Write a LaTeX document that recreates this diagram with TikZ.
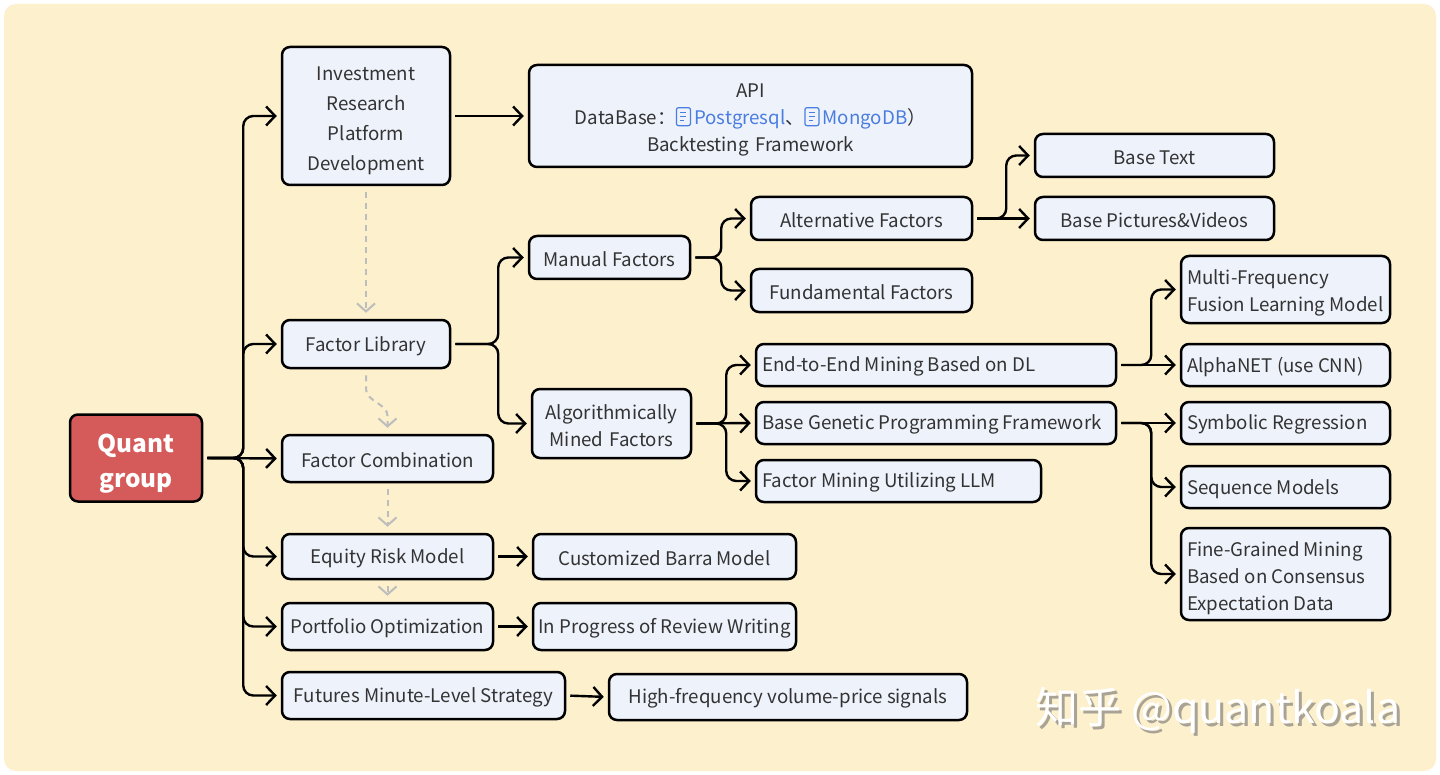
\documentclass[tikz,border=0pt]{standalone}
\usepackage{fontspec}
\setmainfont{Noto Sans CJK SC}
\usepackage{tikz}
\usetikzlibrary{arrows.meta,calc}
\hyphenpenalty=10000

\definecolor{paper}{HTML}{FDF0CC}
\definecolor{boxfill}{HTML}{EEF2FB}
\definecolor{inkgray}{HTML}{333333}
\definecolor{quantred}{HTML}{D55A5A}
\definecolor{linkblue}{HTML}{4A7DE0}
\definecolor{dashgray}{HTML}{BDBDBD}
\definecolor{shadowgray}{HTML}{A9A396}

\newcommand{\docicon}{\tikz[baseline=0pt,x=1pt,y=1pt,line width=0.6pt]{\draw[linkblue,rounded corners=1pt] (0,-0.5) rectangle (7,8.5); \draw[linkblue] (2,6)--(5,6) (2,4)--(5,4) (2,2)--(4,2);}}

\tikzset{
  lift/.style={execute at begin node={\rule{0pt}{#1}}},
  box/.style={draw=black, fill=boxfill, line width=1.25pt, rounded corners=4pt, text=inkgray,
    font=\fontsize{9.35}{13.5}\selectfont, align=center, inner sep=0pt, lift=9.2pt},
  cbox/.style={box, text width=#1},
  lbox/.style={box, align=flush left, inner xsep=3pt, text width=#1},
  arr/.style={line width=1.2pt, rounded corners=5pt, shorten <=2pt, shorten >=2pt,
    -{Straight Barb[length=4.5pt,width=9.5pt]}},
  dasharr/.style={draw=dashgray, line width=1pt, dash pattern=on 3pt off 2.5pt,
    shorten <=3pt, shorten >=3pt, -{Straight Barb[length=4pt,width=9pt]}},
}

\begin{document}
\begin{tikzpicture}[x=0.5pt,y=-0.5pt]
\useasboundingbox (0,0) rectangle (1440,775);
% Background
\fill[white] (0,0) rectangle (1440,775);
\fill[paper,rounded corners=6pt] (4,4) rectangle (1436,771);

% Root
\node[cbox=66pt, fill=quantred, text=white, font=\bfseries\fontsize{12.2}{17.5}\selectfont, lift=15pt,
  minimum height=43.5pt] (quant) at (136,458) {Quant\\group};

% First level
\node[cbox=84pt, minimum height=69pt, font=\fontsize{9.35}{15}\selectfont, lift=11.4pt] (irpd) at (366,116) {Investment\\Research\\Platform\\Development};
\node[box, minimum width=84pt, minimum height=24pt] (flib) at (366,344) {Factor Library};
\node[box, minimum width=105.5pt, minimum height=23.5pt] (fcomb) at (387.5,458.5) {Factor Combination};
\node[box, minimum width=105.5pt, minimum height=22.5pt] (equity) at (387.5,556.5) {Equity Risk Model};
\node[box, minimum width=105.5pt, minimum height=23.5pt] (portf) at (387.5,626.5) {Portfolio Optimization};
\node[box, minimum width=141.5pt, minimum height=23.5pt] (futures) at (423.5,695.5) {Futures Minute-Level Strategy};

% Second level
\node[cbox=221.5pt, minimum height=51pt, lift=11pt] (api) at (750.5,116) {API\\DataBase：{\color{linkblue}\docicon\,Postgresql}、{\color{linkblue}\docicon\,MongoDB}）\\Backtesting Framework};
\node[box, minimum width=80.5pt, minimum height=21.5pt] (manual) at (609.5,257.5) {Manual Factors};
\node[cbox=79.5pt, minimum height=34.5pt, lift=8pt] (algo) at (611.5,423.5) {Algorithmically\\Mined Factors};
\node[box, minimum width=131.5pt, minimum height=22.5pt] (barra) at (664.5,556.5) {Customized Barra Model};
\node[box, minimum width=131.5pt, minimum height=23.5pt] (review) at (664.5,626.5) {In Progress of Review Writing};
\node[box, minimum width=179pt, minimum height=23pt] (hfreq) at (788,697) {High-frequency volume-price signals};

% Third level
\node[box, minimum width=110.5pt, minimum height=21.5pt] (altf) at (861.5,218.5) {Alternative Factors};
\node[box, minimum width=110.5pt, minimum height=21.5pt] (fundf) at (861.5,290.5) {Fundamental Factors};
\node[lbox=174pt, minimum height=21pt] (e2e) at (936,365) {End-to-End Mining Based on DL};
\node[lbox=174pt, minimum height=21pt] (gpf) at (936,423) {Base Genetic Programming Framework};
\node[lbox=136.5pt, minimum height=21pt] (llm) at (898.5,481) {Factor Mining Utilizing LLM};

% Fourth level
\node[box, minimum width=119.5pt, minimum height=21.5pt] (btext) at (1154.5,155.5) {Base Text};
\node[box, minimum width=119.5pt, minimum height=21.5pt] (bpic) at (1154.5,218.5) {Base Pictures\&Videos};
\node[lbox=98.5pt, minimum height=33.5pt, lift=11pt] (mfreq) at (1285.5,289.5) {Multi-Frequency\\Fusion Learning Model};
\node[lbox=98.5pt, minimum height=21pt] (alpha) at (1285.5,365) {AlphaNET (use CNN)};
\node[lbox=98.5pt, minimum height=21pt] (symreg) at (1285.5,423) {Symbolic Regression};
\node[lbox=98.5pt, minimum height=21pt] (seqm) at (1285.5,487) {Sequence Models};
\node[lbox=98.5pt, minimum height=46pt, lift=12pt] (fgm) at (1285.5,574) {Fine-Grained Mining\\Based on Consensus\\Expectation Data};

% Tree connectors
\foreach \c in {irpd,flib,equity,portf,futures}
  \draw[arr] (quant.east) -- ++(40,0) |- (\c.west);
\draw[arr] (quant.east) -- (fcomb.west);
\foreach \c in {manual,algo}
  \draw[arr] (flib.east) -- ++(47,0) |- (\c.west);
\foreach \c in {altf,fundf}
  \draw[arr] (manual.east) -- ++(30,0) |- (\c.west);
\foreach \c in {e2e,llm}
  \draw[arr] (algo.east) -- ++(34,0) |- (\c.west);
\draw[arr] (algo.east) -- (gpf.west);
\draw[arr] (altf.east) -- ++(33,0) |- (btext.west);
\draw[arr] (altf.east) -- (bpic.west);
\draw[arr] (e2e.east) -- ++(34,0) |- (mfreq.west);
\draw[arr] (e2e.east) -- (alpha.west);
\foreach \c in {seqm,fgm}
  \draw[arr] (gpf.east) -- ++(34,0) |- (\c.west);
\draw[arr] (gpf.east) -- (symreg.west);
\draw[arr] (irpd.east) -- (api.west);
\draw[arr] (equity.east) -- (barra.west);
\draw[arr] (portf.east) -- (review.west);
\draw[arr] (futures.east) -- (hfreq.west);

% Dashed flow
\draw[dasharr] (irpd.south) -- (flib.north);
\draw[dasharr] (flib.south) -- ++(0,20) .. controls +(0,12) and +(0,-12) .. ($(fcomb.north)+(0,-18)$) -- (fcomb.north);
\draw[dasharr] (fcomb.south) -- (equity.north);
\draw[dasharr] (equity.south) -- (portf.north);

% Watermark
\node[text=shadowgray, font=\fontsize{21.5}{21.5}\selectfont] (wmshadow) at (1221,713) {知乎 @quantkoala};
\node[text=white, font=\fontsize{21.5}{21.5}\selectfont] (wm) at (1218,710) {知乎 @quantkoala};
\end{tikzpicture}
\end{document}
